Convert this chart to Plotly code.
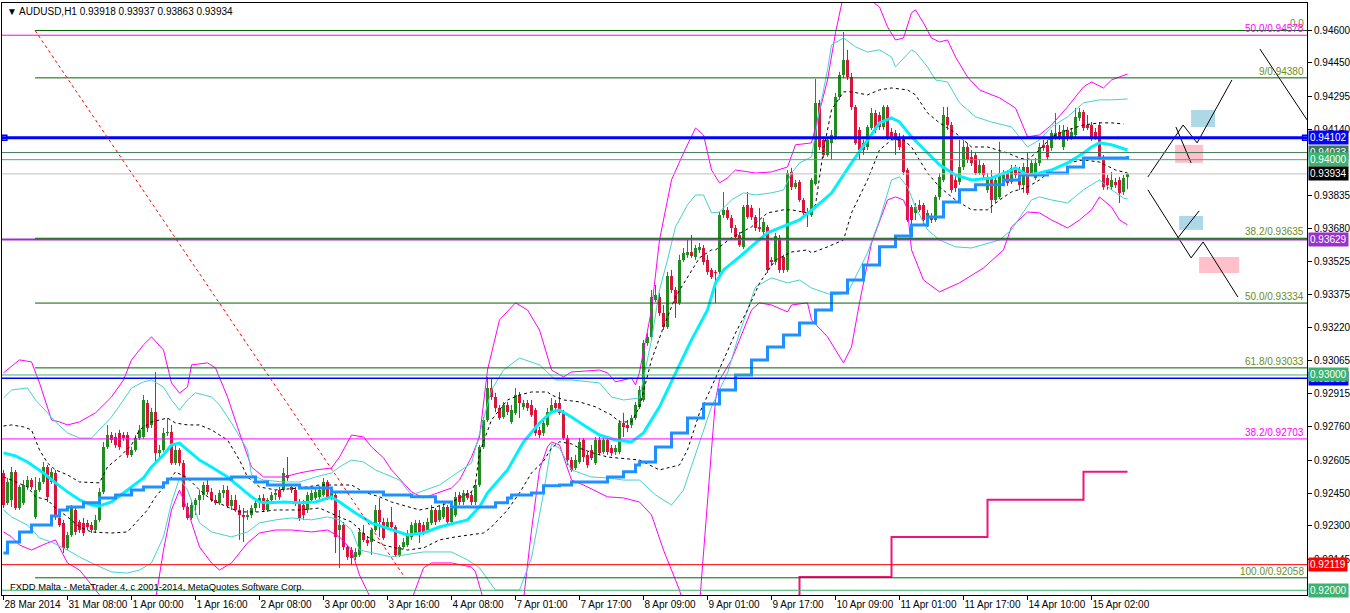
import plotly.graph_objects as go

FONT = "Liberation Sans, Arial, sans-serif"

# ---------------- hourly candles (open, high, low, close), 28 Mar 2014 -> 15 Apr 2014 ----------------
candles = [
(0.92545,0.92559,0.92382,0.92396),(0.92406,0.92522,0.92396,0.92503),(0.92420,0.92573,0.92387,0.92550),(0.92550,0.92559,0.92373,0.92382),
(0.92382,0.92489,0.92373,0.92480),(0.92406,0.92512,0.92396,0.92489),(0.92480,0.92531,0.92466,0.92512),(0.92512,0.92522,0.92466,0.92480),
(0.92341,0.92526,0.92331,0.92466),(0.92466,0.92522,0.92457,0.92503),(0.92503,0.92596,0.92494,0.92573),(0.92573,0.92582,0.92410,0.92434),
(0.92503,0.92568,0.92494,0.92550),(0.92545,0.92559,0.92327,0.92341),(0.92336,0.92350,0.92294,0.92303),(0.92313,0.92327,0.92173,0.92196),
(0.92196,0.92271,0.92187,0.92257),(0.92257,0.92396,0.92248,0.92387),(0.92373,0.92387,0.92257,0.92271),(0.92317,0.92327,0.92266,0.92280),
(0.92313,0.92336,0.92252,0.92266),(0.92313,0.92327,0.92280,0.92294),(0.92303,0.92317,0.92266,0.92280),(0.92280,0.92350,0.92266,0.92327),
(0.92327,0.92475,0.92317,0.92457),(0.92457,0.92689,0.92447,0.92666),(0.92666,0.92768,0.92656,0.92721),(0.92721,0.92735,0.92684,0.92698),
(0.92712,0.92731,0.92661,0.92675),(0.92731,0.92745,0.92652,0.92666),(0.92721,0.92735,0.92694,0.92707),(0.92721,0.92735,0.92615,0.92629),
(0.92629,0.92666,0.92619,0.92652),(0.92652,0.92721,0.92643,0.92707),(0.92707,0.92768,0.92698,0.92745),(0.92712,0.92907,0.92703,0.92884),
(0.92870,0.92884,0.92735,0.92754),(0.92768,0.92847,0.92754,0.92828),(0.92828,0.93014,0.92591,0.92638),(0.92638,0.92675,0.92615,0.92652),
(0.92652,0.92754,0.92643,0.92731),(0.92731,0.92800,0.92717,0.92735),(0.92735,0.92768,0.92582,0.92591),(0.92591,0.92675,0.92582,0.92652),
(0.92652,0.92661,0.92577,0.92591),(0.92591,0.92605,0.92373,0.92387),(0.92387,0.92406,0.92327,0.92336),(0.92336,0.92420,0.92327,0.92396),
(0.92396,0.92429,0.92350,0.92420),(0.92420,0.92466,0.92350,0.92443),(0.92443,0.92503,0.92420,0.92489),(0.92489,0.92512,0.92443,0.92457),
(0.92457,0.92475,0.92410,0.92420),(0.92420,0.92443,0.92396,0.92406),(0.92406,0.92466,0.92396,0.92452),(0.92452,0.92489,0.92429,0.92466),
(0.92466,0.92485,0.92382,0.92392),(0.92392,0.92443,0.92373,0.92420),(0.92420,0.92443,0.92364,0.92373),(0.92373,0.92396,0.92234,0.92350),
(0.92350,0.92382,0.92224,0.92341),(0.92341,0.92373,0.92327,0.92350),(0.92350,0.92396,0.92336,0.92382),(0.92382,0.92420,0.92364,0.92406),
(0.92406,0.92443,0.92382,0.92429),(0.92429,0.92447,0.92364,0.92373),(0.92373,0.92429,0.92364,0.92420),(0.92420,0.92457,0.92406,0.92443),
(0.92443,0.92466,0.92420,0.92452),(0.92466,0.92480,0.92420,0.92434),(0.92466,0.92568,0.92457,0.92545),(0.92536,0.92619,0.92508,0.92522),
(0.92480,0.92494,0.92452,0.92466),(0.92466,0.92480,0.92392,0.92406),(0.92410,0.92424,0.92322,0.92336),(0.92396,0.92420,0.92327,0.92350),
(0.92373,0.92457,0.92359,0.92443),(0.92420,0.92466,0.92410,0.92452),(0.92429,0.92475,0.92420,0.92457),(0.92434,0.92485,0.92424,0.92466),
(0.92443,0.92522,0.92434,0.92503),(0.92503,0.92512,0.92420,0.92434),(0.92434,0.92480,0.92420,0.92466),(0.92443,0.92452,0.92173,0.92248),
(0.92280,0.92373,0.92103,0.92303),(0.92303,0.92317,0.92187,0.92201),(0.92201,0.92210,0.92141,0.92155),(0.92187,0.92201,0.92117,0.92150),
(0.92155,0.92196,0.92141,0.92178),(0.92164,0.92289,0.92155,0.92271),(0.92266,0.92303,0.92224,0.92234),(0.92234,0.92252,0.92206,0.92220),
(0.92224,0.92289,0.92164,0.92280),(0.92280,0.92396,0.92271,0.92373),(0.92373,0.92429,0.92248,0.92317),(0.92317,0.92336,0.92234,0.92243),
(0.92289,0.92336,0.92280,0.92317),(0.92317,0.92387,0.92280,0.92294),(0.92294,0.92303,0.92155,0.92164),(0.92164,0.92210,0.92155,0.92201),
(0.92201,0.92243,0.92192,0.92224),(0.92210,0.92280,0.92201,0.92257),(0.92248,0.92317,0.92234,0.92303),(0.92266,0.92327,0.92257,0.92313),
(0.92313,0.92327,0.92220,0.92266),(0.92303,0.92317,0.92257,0.92271),(0.92280,0.92336,0.92271,0.92317),(0.92313,0.92396,0.92303,0.92373),
(0.92373,0.92382,0.92303,0.92317),(0.92327,0.92392,0.92317,0.92373),(0.92341,0.92406,0.92331,0.92387),(0.92387,0.92396,0.92303,0.92317),
(0.92317,0.92396,0.92308,0.92382),(0.92350,0.92457,0.92341,0.92434),(0.92443,0.92457,0.92396,0.92410),(0.92410,0.92466,0.92396,0.92452),
(0.92452,0.92466,0.92420,0.92429),(0.92443,0.92457,0.92396,0.92410),(0.92410,0.92503,0.92396,0.92489),(0.92489,0.92675,0.92480,0.92666),
(0.92666,0.92805,0.92656,0.92791),(0.92791,0.92991,0.92782,0.92940),(0.92940,0.92986,0.92884,0.92898),(0.92898,0.92917,0.92828,0.92847),
(0.92847,0.92861,0.92791,0.92800),(0.92805,0.92875,0.92796,0.92861),(0.92861,0.92875,0.92814,0.92828),(0.92782,0.92861,0.92773,0.92838),
(0.92824,0.92940,0.92814,0.92907),(0.92907,0.92921,0.92800,0.92870),(0.92852,0.92884,0.92838,0.92870),(0.92870,0.92884,0.92833,0.92847),
(0.92861,0.92884,0.92805,0.92814),(0.92838,0.92847,0.92717,0.92731),(0.92745,0.92759,0.92707,0.92721),(0.92731,0.92791,0.92717,0.92777),
(0.92768,0.92847,0.92759,0.92828),(0.92828,0.92893,0.92819,0.92861),(0.92870,0.92884,0.92838,0.92847),(0.92870,0.92921,0.92814,0.92824),
(0.92828,0.92838,0.92698,0.92707),(0.92707,0.92721,0.92582,0.92605),(0.92605,0.92619,0.92550,0.92559),(0.92568,0.92629,0.92559,0.92605),
(0.92596,0.92707,0.92587,0.92689),(0.92698,0.92707,0.92596,0.92619),(0.92629,0.92643,0.92568,0.92582),(0.92652,0.92675,0.92605,0.92615),
(0.92591,0.92712,0.92582,0.92698),(0.92698,0.92712,0.92629,0.92638),(0.92643,0.92712,0.92633,0.92698),(0.92698,0.92712,0.92629,0.92643),
(0.92661,0.92675,0.92624,0.92638),(0.92643,0.92675,0.92629,0.92661),(0.92643,0.92791,0.92633,0.92777),(0.92777,0.92824,0.92712,0.92759),
(0.92768,0.92791,0.92735,0.92754),(0.92768,0.92814,0.92754,0.92800),(0.92800,0.92875,0.92791,0.92861),(0.92852,0.92949,0.92842,0.92930),
(0.92884,0.93163,0.92875,0.93148),(0.93148,0.93195,0.93135,0.93177),(0.93177,0.93395,0.93163,0.93363),(0.93349,0.93418,0.93339,0.93372),
(0.93363,0.93381,0.93274,0.93288),(0.93288,0.93325,0.93209,0.93223),(0.93223,0.93479,0.93214,0.93460),(0.93460,0.93488,0.93381,0.93395),
(0.93395,0.93409,0.93265,0.93335),(0.93335,0.93558,0.93325,0.93534),(0.93534,0.93590,0.93525,0.93567),(0.93558,0.93627,0.93544,0.93571),
(0.93571,0.93650,0.93544,0.93553),(0.93548,0.93604,0.93534,0.93590),(0.93581,0.93613,0.93567,0.93595),(0.93590,0.93604,0.93511,0.93525),
(0.93534,0.93558,0.93465,0.93479),(0.93488,0.93497,0.93446,0.93455),(0.93476,0.93488,0.93335,0.93474),(0.93479,0.93757,0.93465,0.93743),
(0.93743,0.93850,0.93729,0.93767),(0.93767,0.93780,0.93720,0.93729),(0.93729,0.93743,0.93660,0.93683),(0.93683,0.93697,0.93627,0.93641),
(0.93650,0.93664,0.93595,0.93604),(0.93595,0.93790,0.93585,0.93780),(0.93790,0.93850,0.93725,0.93734),(0.93776,0.93790,0.93720,0.93734),
(0.93734,0.93743,0.93669,0.93683),(0.93683,0.93776,0.93664,0.93681),(0.93664,0.93729,0.93650,0.93711),(0.93687,0.93697,0.93474,0.93488),
(0.93534,0.93548,0.93507,0.93525),(0.93525,0.93660,0.93511,0.93646),(0.93637,0.93650,0.93474,0.93488),(0.93548,0.93558,0.93474,0.93488),
(0.93488,0.93952,0.93479,0.93938),(0.93943,0.93962,0.93859,0.93873),(0.93873,0.93906,0.93864,0.93892),(0.93896,0.93906,0.93804,0.93813),
(0.93813,0.93822,0.93743,0.93752),(0.93754,0.93776,0.93687,0.93752),(0.93743,0.93915,0.93734,0.93906),(0.93887,0.94375,0.93880,0.94264),
(0.94264,0.94278,0.94045,0.94059),(0.94092,0.94106,0.94008,0.94022),(0.94022,0.94106,0.94013,0.94092),(0.94078,0.94138,0.93999,0.94115),
(0.94106,0.94310,0.94092,0.94291),(0.94291,0.94408,0.94278,0.94394),(0.94394,0.94593,0.94380,0.94463),(0.94463,0.94510,0.94370,0.94384),
(0.94384,0.94403,0.94231,0.94245),(0.94245,0.94254,0.94069,0.94078),(0.94138,0.94152,0.93999,0.94045),(0.94078,0.94092,0.94022,0.94045),
(0.94059,0.94161,0.94045,0.94152),(0.94147,0.94240,0.94138,0.94217),(0.94217,0.94231,0.94124,0.94138),(0.94208,0.94222,0.94138,0.94152),
(0.94152,0.94254,0.94138,0.94245),(0.94245,0.94254,0.94092,0.94106),(0.94129,0.94147,0.94092,0.94106),(0.94124,0.94138,0.94022,0.94092),
(0.94106,0.94124,0.94045,0.94059),(0.94106,0.94115,0.93929,0.93943),(0.93952,0.93962,0.93711,0.93720),(0.93780,0.93790,0.93697,0.93720),
(0.93752,0.93799,0.93720,0.93780),(0.93790,0.93813,0.93757,0.93767),(0.93790,0.93799,0.93697,0.93720),(0.93706,0.93767,0.93687,0.93752),
(0.93734,0.93752,0.93706,0.93720),(0.93720,0.93836,0.93711,0.93827),(0.93827,0.93938,0.93813,0.93920),(0.93906,0.94245,0.93896,0.94208),
(0.94199,0.94245,0.94138,0.94161),(0.94161,0.94175,0.93846,0.93860),(0.93906,0.93929,0.93850,0.93869),(0.93896,0.94092,0.93883,0.93967),
(0.93967,0.94092,0.93952,0.94059),(0.94059,0.94078,0.93985,0.93999),(0.94013,0.94045,0.93971,0.93985),(0.94022,0.94036,0.93929,0.93938),
(0.93938,0.93999,0.93929,0.93976),(0.93976,0.93985,0.93915,0.93929),(0.93860,0.93938,0.93846,0.93920),(0.93920,0.93952,0.93752,0.93813),
(0.93813,0.93920,0.93799,0.93906),(0.93827,0.94083,0.93818,0.93938),(0.93896,0.93952,0.93883,0.93938),(0.93938,0.93952,0.93878,0.93892),
(0.93896,0.93976,0.93887,0.93962),(0.93962,0.93976,0.93915,0.93929),(0.93952,0.93967,0.93860,0.93883),(0.93883,0.93985,0.93846,0.93967),
(0.93967,0.94036,0.93836,0.93846),(0.93938,0.93999,0.93924,0.93985),(0.93915,0.94008,0.93906,0.93985),(0.93985,0.94078,0.93971,0.94059),
(0.94069,0.94092,0.94041,0.94055),(0.94069,0.94092,0.93999,0.94013),(0.94055,0.94138,0.94041,0.94124),(0.94106,0.94217,0.94092,0.94124),
(0.94129,0.94161,0.94092,0.94106),(0.94059,0.94161,0.94045,0.94138),(0.94138,0.94152,0.94087,0.94101),(0.94106,0.94147,0.94092,0.94129),
(0.94115,0.94240,0.94101,0.94199),(0.94194,0.94240,0.94180,0.94222),(0.94222,0.94231,0.94134,0.94147),(0.94161,0.94208,0.94138,0.94147),
(0.94161,0.94175,0.94087,0.94101),(0.94129,0.94147,0.94092,0.94101),(0.94161,0.94175,0.93999,0.94013),(0.93999,0.94022,0.93860,0.93873),
(0.93915,0.93929,0.93860,0.93883),(0.93873,0.93943,0.93860,0.93906),(0.93896,0.93915,0.93869,0.93883),(0.93906,0.93920,0.93799,0.93846),
(0.93850,0.93929,0.93836,0.93915),(0.93918,0.93937,0.93863,0.93934),
]

# ---------------- indicators: (bar index, price) samples ----------------
ma_pts = [(0,0.92638),(3,0.92624),(6,0.92596),(10,0.92545),(13,0.92499),(16,0.92457),(19,0.92420),(22,0.92396),(24,0.92392),(27,0.92410),
(30,0.92452),(32,0.92480),(35,0.92522),(37,0.92573),(40,0.92629),(42,0.92675),(44,0.92684),(46,0.92652),(49,0.92605),(52,0.92573),
(56,0.92526),(59,0.92480),(62,0.92434),(64,0.92410),(66,0.92406),(70,0.92410),(74,0.92406),(78,0.92410),(82,0.92434),(84,0.92410),
(88,0.92359),(92,0.92313),(97,0.92280),(101,0.92257),(105,0.92266),(109,0.92294),(113,0.92313),(116,0.92327),(119,0.92387),(121,0.92452),
(126,0.92559),(130,0.92689),(134,0.92777),(137,0.92828),(139,0.92837),(142,0.92805),(145,0.92768),(149,0.92721),(153,0.92698),(157,0.92689),
(160,0.92731),(164,0.92852),(168,0.93009),(172,0.93163),(176,0.93302),(178,0.93427),(180,0.93488),(184,0.93548),(188,0.93613),(191,0.93660),
(194,0.93683),(199,0.93720),(203,0.93780),(207,0.93845),(212,0.93985),(216,0.94092),(219,0.94171),(222,0.94194),(224,0.94175),(227,0.94106),
(231,0.94031),(234,0.93976),(238,0.93929),(242,0.93906),(247,0.93915),(251,0.93943),(253,0.93962),(256,0.93929),(259,0.93938),(262,0.93952),
(266,0.93985),(270,0.94031),(272,0.94059),(274,0.94078),(277,0.94069),(281,0.94045)]

trail_pts = [(0,0.92173),(1,0.92224),(4,0.92271),(7,0.92303),(12,0.92345),(14,0.92373),(16,0.92387),(20,0.92406),(24,0.92429),(28,0.92443),
(32,0.92466),(35,0.92480),(40,0.92499),(41,0.92517),(57,0.92526),(63,0.92503),(66,0.92489),(74,0.92475),(82,0.92457),(95,0.92443),
(102,0.92434),(108,0.92410),(112,0.92387),(123,0.92406),(126,0.92429),(127,0.92443),(132,0.92452),(135,0.92485),(139,0.92489),(142,0.92503),
(151,0.92526),(155,0.92550),(158,0.92582),(159,0.92596),(163,0.92666),(167,0.92731),(171,0.92800),(175,0.92865),(179,0.92930),(183,0.93000),
(187,0.93070),(191,0.93130),(195,0.93186),(199,0.93242),(203,0.93302),(207,0.93381),(211,0.93441),(215,0.93511),(219,0.93595),(223,0.93646),
(227,0.93697),(231,0.93734),(235,0.93804),(239,0.93860),(243,0.93883),(250,0.93906),(254,0.93929),(261,0.93938),(266,0.93966),(270,0.94008),
(281,0.94017)]

pink_pts = [(198,0.91900),(199,0.92062),(222,0.92248),(246,0.92420),(270,0.92550),(281,0.92550)]

mag_up = [(0,0.93010),(4,0.93070),(7,0.93061),(9,0.92963),(12,0.92791),(14,0.92782),(16,0.92768),(19,0.92782),(23,0.92824),(27,0.92898),
(30,0.92977),(32,0.93070),(35,0.93140),(37,0.93177),(40,0.93116),(42,0.92963),(44,0.92916),(46,0.92944),(47,0.93047),(51,0.93056),
(53,0.93033),(56,0.92898),(59,0.92731),(62,0.92573),(65,0.92526),(70,0.92526),(74,0.92545),(78,0.92559),(82,0.92568),(84,0.92619),
(87,0.92721),(90,0.92712),(92,0.92666),(95,0.92615),(97,0.92559),(100,0.92499),(102,0.92457),(105,0.92429),(107,0.92443),(112,0.92475),
(114,0.92512),(117,0.92619),(119,0.92712),(121,0.93023),(124,0.93256),(128,0.93335),(131,0.93302),(134,0.93209),(137,0.93023),(140,0.92991),
(142,0.93014),(149,0.93023),(151,0.93010),(153,0.92968),(157,0.92986),(158,0.92954),(159,0.93014),(162,0.93302),(164,0.93627),(167,0.93906),
(170,0.94031),(173,0.94147),(175,0.94115),(177,0.93952),(179,0.93892),(181,0.93915),(183,0.93952),(188,0.93938),(192,0.93943),(196,0.93966),
(198,0.94069),(202,0.94078),(206,0.94370),(208,0.94589),(210,0.94765),(215,0.94765),(219,0.94709),(221,0.94617),(223,0.94556),(225,0.94565),
(227,0.94682),(228,0.94696),(230,0.94635),(232,0.94565),(234,0.94547),(236,0.94556),(238,0.94477),(241,0.94384),(244,0.94324),(249,0.94287),
(253,0.94240),(256,0.94106),(259,0.94115),(262,0.94161),(266,0.94245),(270,0.94338),(272,0.94361),(275,0.94333),(277,0.94370),(281,0.94398)]

mag_lo = [(0,0.92271),(2,0.92248),(4,0.92210),(7,0.92187),(11,0.92220),(13,0.92234),(16,0.92127),(19,0.92094),(22,0.92025),(25,0.91955),
(37,0.91932),(38,0.91955),(40,0.92187),(42,0.92373),(44,0.92466),(46,0.92373),(49,0.92201),(52,0.92127),(54,0.92094),(57,0.92127),
(61,0.92220),(64,0.92266),(68,0.92280),(72,0.92280),(77,0.92271),(81,0.92280),(84,0.92248),(87,0.92187),(89,0.92071),(92,0.91955),
(102,0.91955),(105,0.92104),(107,0.92127),(112,0.92127),(117,0.92108),(118,0.92085),(120,0.91955),(130,0.91955),(132,0.92280),(134,0.92559),
(136,0.92666),(137,0.92689),(139,0.92675),(141,0.92559),(142,0.92512),(145,0.92489),(151,0.92434),(155,0.92429),(159,0.92410),(162,0.92350),
(165,0.92187),(169,0.92001),(170,0.91932),(174,0.91932),(175,0.92187),(177,0.92652),(178,0.92884),(179,0.92977),(182,0.93070),(185,0.93209),
(187,0.93302),(189,0.93335),(192,0.93325),(196,0.93293),(197,0.93325),(201,0.93335),(202,0.93256),(206,0.93177),(210,0.93056),(212,0.93130),
(214,0.93335),(217,0.93613),(221,0.93813),(223,0.93827),(225,0.93813),(226,0.93767),(227,0.93581),(230,0.93441),(234,0.93386),(239,0.93428),
(245,0.93497),(250,0.93581),(252,0.93688),(256,0.93757),(259,0.93753),(262,0.93720),(266,0.93683),(269,0.93720),(272,0.93767),(274,0.93827),
(277,0.93780),(279,0.93720),(281,0.93697)]

turq_up = [(0,0.92893),(2,0.92930),(6,0.92940),(8,0.92884),(11,0.92824),(13,0.92782),(16,0.92731),(19,0.92707),(22,0.92707),(24,0.92745),
(27,0.92805),(30,0.92884),(32,0.92940),(35,0.92968),(37,0.92977),(40,0.92944),(42,0.92884),(44,0.92837),(46,0.92884),(48,0.92917),
(52,0.92898),(54,0.92861),(57,0.92777),(61,0.92652),(62,0.92536),(65,0.92512),(70,0.92503),(74,0.92503),(78,0.92526),(82,0.92545),
(84,0.92573),(87,0.92605),(90,0.92596),(93,0.92559),(99,0.92512),(102,0.92443),(109,0.92489),(117,0.92591),(120,0.92791),(122,0.92930),
(125,0.93023),(129,0.93079),(134,0.93047),(138,0.92977),(142,0.92977),(149,0.92963),(152,0.92898),(155,0.92884),(159,0.92893),(162,0.93163),
(164,0.93395),(166,0.93534),(168,0.93688),(171,0.93790),(173,0.93836),(175,0.93836),(177,0.93753),(179,0.93757),(182,0.93813),(185,0.93846),
(188,0.93836),(192,0.93846),(195,0.93859),(197,0.93938),(199,0.93985),(202,0.94013),(204,0.94231),(206,0.94417),(207,0.94533),(210,0.94565),
(213,0.94524),(216,0.94500),(219,0.94510),(222,0.94477),(223,0.94431),(227,0.94510),(228,0.94500),(231,0.94431),(233,0.94370),(236,0.94361),
(239,0.94264),(243,0.94199),(247,0.94175),(252,0.94152),(256,0.94059),(259,0.94092),(262,0.94152),(266,0.94199),(270,0.94264),(274,0.94278),
(277,0.94278),(281,0.94282)]

turq_lo = [(0,0.92373),(2,0.92341),(6,0.92303),(9,0.92243),(12,0.92224),(16,0.92187),(19,0.92155),(22,0.92127),(27,0.92085),(31,0.92080),
(34,0.92094),(37,0.92127),(40,0.92248),(42,0.92406),(44,0.92522),(46,0.92466),(49,0.92313),(52,0.92271),(57,0.92248),(61,0.92271),
(64,0.92313),(68,0.92327),(72,0.92336),(77,0.92327),(81,0.92341),(84,0.92327),(87,0.92280),(89,0.92187),(97,0.92155),(105,0.92178),
(112,0.92178),(116,0.92141),(119,0.92104),(123,0.92001),(129,0.92001),(132,0.92150),(135,0.92450),(137,0.92680),(139,0.92660),(142,0.92559),
(147,0.92526),(151,0.92522),(155,0.92512),(159,0.92512),(163,0.92443),(167,0.92396),(170,0.92466),(173,0.92629),(177,0.92852),(181,0.93009),
(184,0.93195),(186,0.93302),(188,0.93409),(192,0.93451),(196,0.93428),(199,0.93441),(202,0.93404),(207,0.93372),(211,0.93381),(213,0.93455),
(216,0.93567),(219,0.93720),(222,0.93906),(224,0.93920),(226,0.93873),(228,0.93780),(231,0.93674),(234,0.93627),(238,0.93595),(242,0.93590),
(249,0.93627),(252,0.93674),(257,0.93813),(259,0.93827),(262,0.93813),(266,0.93799),(270,0.93860),(274,0.93906),(277,0.93860),(280,0.93822),
(281,0.93818)]

dash_up = [(0,0.92763),(2,0.92768),(5,0.92759),(7,0.92745),(9,0.92652),(11,0.92591),(13,0.92559),(16,0.92536),(19,0.92503),(24,0.92499),
(26,0.92573),(29,0.92619),(32,0.92675),(34,0.92745),(37,0.92782),(41,0.92800),(43,0.92777),(46,0.92768),(49,0.92768),(52,0.92745),
(56,0.92698),(59,0.92605),(61,0.92526),(64,0.92480),(68,0.92466),(74,0.92475),(79,0.92489),(84,0.92489),(87,0.92489),(90,0.92457),
(94,0.92434),(97,0.92410),(101,0.92387),(104,0.92373),(108,0.92387),(112,0.92410),(117,0.92457),(118,0.92499),(119,0.92638),(122,0.92791),
(126,0.92884),(129,0.92907),(132,0.92921),(136,0.92921),(137,0.92907),(140,0.92884),(144,0.92875),(148,0.92852),(152,0.92814),(154,0.92782),
(157,0.92782),(159,0.92852),(162,0.93070),(165,0.93223),(168,0.93363),(171,0.93455),(174,0.93544),(177,0.93581),(178,0.93581),(182,0.93637),
(187,0.93688),(191,0.93753),(195,0.93767),(197,0.93767),(201,0.93753),(203,0.93790),(205,0.94045),(207,0.94231),(210,0.94315),(212,0.94315),
(216,0.94301),(219,0.94324),(222,0.94333),(226,0.94324),(228,0.94301),(231,0.94217),(234,0.94171),(238,0.94124),(242,0.94059),(246,0.94059),
(251,0.94031),(254,0.94008),(256,0.93999),(259,0.94045),(262,0.94106),(266,0.94138),(270,0.94161),(274,0.94171),(277,0.94171),(280,0.94166)]

dash_lo = [(0,0.92526),(2,0.92512),(6,0.92480),(8,0.92434),(11,0.92420),(13,0.92382),(16,0.92341),(19,0.92294),(22,0.92271),(27,0.92266),
(31,0.92271),(33,0.92313),(36,0.92373),(38,0.92434),(41,0.92499),(43,0.92550),(46,0.92522),(49,0.92466),(52,0.92420),(56,0.92387),
(59,0.92364),(64,0.92364),(68,0.92373),(74,0.92373),(79,0.92382),(84,0.92340),(87,0.92317),(91,0.92248),(95,0.92210),(98,0.92197),
(101,0.92187),(105,0.92197),(109,0.92234),(113,0.92248),(117,0.92257),(120,0.92266),(122,0.92294),(126,0.92373),(129,0.92452),(132,0.92545),
(135,0.92600),(137,0.92660),(139,0.92690),(142,0.92680),(144,0.92660),(147,0.92640),(151,0.92619),(154,0.92615),(159,0.92605),(164,0.92559),
(169,0.92582),(171,0.92652),(174,0.92824),(177,0.92944),(180,0.93070),(183,0.93195),(186,0.93302),(189,0.93427),(193,0.93534),(197,0.93571),
(201,0.93581),(202,0.93567),(206,0.93595),(210,0.93627),(212,0.93753),(216,0.93906),(219,0.94045),(222,0.94092),(225,0.94092),(227,0.94059),
(231,0.93938),(234,0.93873),(238,0.93813),(242,0.93767),(246,0.93767),(249,0.93813),(252,0.93850),(256,0.93873),(259,0.93906),(262,0.93952),
(266,0.93985),(270,0.93999),(274,0.93989),(278,0.93952),(281,0.93938)]

# ---------------- axis labels ----------------
time_tick_bars = [0, 16, 32, 48, 64, 80, 96, 112, 128, 144, 160, 176, 192, 208, 224, 240, 256, 272]
time_tick_text = ["28 Mar 2014", "31 Mar 08:00", "1 Apr 00:00", "1 Apr 16:00", "2 Apr 08:00", "3 Apr 00:00",
                  "3 Apr 16:00", "4 Apr 08:00", "7 Apr 01:00", "7 Apr 17:00", "8 Apr 09:00", "9 Apr 01:00",
                  "9 Apr 17:00", "10 Apr 09:00", "11 Apr 01:00", "11 Apr 17:00", "14 Apr 10:00", "15 Apr 02:00"]
price_ticks = [0.94600, 0.94450, 0.94295, 0.94140, 0.93835, 0.93680, 0.93525, 0.93375, 0.93220,
               0.93065, 0.92915, 0.92760, 0.92605, 0.92450, 0.92300, 0.92145]

# ---------------- horizontal levels ----------------
full_levels = [(0.94578, "#FF00FF", 1), (0.94102, "#0000FF", 3), (0.94033, "#3B7A58", 1), (0.94000, "#3CB371", 1),
               (0.93934, "#C0C0C0", 1), (0.93629, "#9932CC", 2), (0.93000, "#3CB371", 1), (0.92985, "#0000FF", 1.5),
               (0.92703, "#FF00FF", 1), (0.92119, "#FF0000", 1), (0.92000, "#3CB371", 1)]
fib_start_bar = 7.9
fib_levels = [0.94600, 0.94380, 0.93635, 0.93334, 0.93033, 0.92058]
level_texts = [("0.0", 0.94600, "#6B8E23"), ("50.0/0.94578", 0.94578, "#FF00FF"), ("9/0.94380", 0.94380, "#6B8E23"),
               ("38.2/0.93635", 0.93635, "#6B8E23"), ("50.0/0.93334", 0.93334, "#6B8E23"), ("61.8/0.93033", 0.93033, "#6B8E23"),
               ("38.2/0.92703", 0.92703, "#FF00FF"), ("100.0/0.92058", 0.92058, "#6B8E23")]
price_boxes = [(0.94102, "#0000FF"), (0.94033, "#3B7A58"), (0.94000, "#3CB371"), (0.93934, "#000000"),
               (0.93629, "#9932CC"), (0.92985, "#0000FF"), (0.93000, "#3CB371"), (0.92119, "#FF0000"), (0.92000, "#3CB371")]
trend_line = [(7.9, 0.94600), (100.4, 0.92058)]

# drawn forecast objects (bar index incl. future bars, price)
zigzags = [
    [(286.1, 0.93920), (294.9, 0.94161), (298.4, 0.94078), (307.1, 0.94370)],
    [(293.1, 0.94152), (296.9, 0.93985)],
    [(286.1, 0.93860), (296.9, 0.93544), (299.9, 0.93618), (308.6, 0.93362)],
    [(293.6, 0.93637), (298.9, 0.93762)],
    [(314.1, 0.94514), (325.875, 0.94185)],
]
boxes = [(296.9, 302.9, 0.94152, 0.94231, "#ADD8E6"), (292.9, 299.9, 0.93985, 0.94069, "#FFC0CB"),
         (293.9, 299.9, 0.93674, 0.93739, "#ADD8E6"), (298.9, 308.9, 0.93474, 0.93548, "#FFC0CB")]

GREEN = "#228B22"
RED = "#DC143C"

fig = go.Figure()

# candles: wicks + bodies
for col, is_up in ((GREEN, True), (RED, False)):
    wx, wy, bx, bb, bh = [], [], [], [], []
    for i, (o, h, l, c) in enumerate(candles):
        if (c >= o) != is_up:
            continue
        wx += [i, i, None]
        wy += [l, h, None]
        bx.append(i)
        bb.append(min(o, c))
        bh.append(abs(c - o))
    fig.add_trace(go.Scatter(x=wx, y=wy, mode="lines", line=dict(color=col, width=1), hoverinfo="skip"))
    fig.add_trace(go.Bar(x=bx, y=bh, base=bb, width=0.75, marker=dict(color=col, line=dict(width=0)), hoverinfo="skip"))


def add_line(pts, color, width, dash=None, shape="linear"):
    fig.add_trace(go.Scatter(x=[p[0] for p in pts], y=[p[1] for p in pts], mode="lines",
                             line=dict(color=color, width=width, dash=dash, shape=shape), hoverinfo="skip"))


add_line(mag_up, "#FF00FF", 1)
add_line(mag_lo, "#FF00FF", 1)
add_line(turq_up, "#48D1CC", 1)
add_line(turq_lo, "#48D1CC", 1)
add_line(dash_up, "#000000", 1, dash="3px,3px")
add_line(dash_lo, "#000000", 1, dash="3px,3px")
add_line(ma_pts, "#00F0FF", 3)
add_line(trail_pts, "#1E90FF", 3, shape="hv")
add_line(pink_pts, "#F0147F", 2, shape="hv")

for z in zigzags:
    add_line(z, "#000000", 1)

# handles on the blue horizontal line
fig.add_trace(go.Scatter(x=[0.2, 325.4], y=[0.94102, 0.94102], mode="markers",
                         marker=dict(symbol="square", size=5, color="white", line=dict(color="#0000FF", width=1.5)),
                         hoverinfo="skip", cliponaxis=False))

shapes = []
for x0, x1, y0, y1, col in boxes:
    shapes.append(dict(type="rect", xref="x", yref="y", x0=x0, x1=x1, y0=y0, y1=y1,
                       fillcolor=col, line=dict(width=0), layer="below"))
for p, col, w in full_levels:
    shapes.append(dict(type="line", xref="paper", yref="y", x0=0, x1=1, y0=p, y1=p,
                       line=dict(color=col, width=w), layer="above"))
for p in fib_levels:
    shapes.append(dict(type="line", xref="x", yref="y", x0=fib_start_bar, x1=325.875, y0=p, y1=p,
                       line=dict(color="#006400", width=1), layer="above"))
shapes.append(dict(type="line", xref="x", yref="y", x0=trend_line[0][0], y0=trend_line[0][1],
                   x1=trend_line[1][0], y1=trend_line[1][1], line=dict(color="#FF0000", width=1, dash="dot"),
                   layer="above"))

ann = []
for txt, p, col in level_texts:
    ann.append(dict(xref="x", yref="y", x=325.5, y=p, text=txt, showarrow=False, xanchor="right",
                    yanchor="bottom", yshift=-1, font=dict(family=FONT, size=10, color=col)))
for p, col in price_boxes:
    ann.append(dict(xref="paper", yref="y", x=1, y=p, text=f"{p:.5f}", showarrow=False, xanchor="left",
                    yanchor="middle", xshift=1, bgcolor=col, borderpad=1,
                    font=dict(family=FONT, size=10, color="white")))
ann.append(dict(xref="paper", yref="paper", x=0, y=1, xanchor="left", yanchor="top", xshift=3, yshift=-1,
                text="\u25bc AUDUSD,H1 0.93918 0.93937 0.93863 0.93934", showarrow=False,
                font=dict(family="Liberation Sans, DejaVu Sans, sans-serif", size=10, color="black")))
ann.append(dict(xref="paper", yref="paper", x=0, y=0, xanchor="left", yanchor="bottom", xshift=6, yshift=1,
                text="FXDD Malta - MetaTrader 4, c 2001-2014, MetaQuotes Software Corp.", showarrow=False,
                font=dict(family=FONT, size=9.4, color="black")))

fig.update_layout(
    width=1350, height=613,
    margin=dict(l=2, r=43, t=3, b=18, pad=0, autoexpand=False),
    paper_bgcolor="white", plot_bgcolor="white",
    showlegend=False, barmode="overlay", bargap=0,
    shapes=shapes, annotations=ann,
    font=dict(family=FONT, size=10, color="black"),
    xaxis=dict(range=[-0.375, 325.875], showgrid=False, zeroline=False, tickmode="array",
               tickvals=time_tick_bars, ticktext=time_tick_text, ticks="outside", ticklen=4, tickangle=0,
               tickcolor="black", showline=True, linecolor="black", linewidth=1, mirror=True,
               ticklabelposition="outside right", tickfont=dict(family=FONT, size=10, color="black"),
               fixedrange=True),
    yaxis=dict(range=[0.919781, 0.947277], side="right", showgrid=False, zeroline=False,
               tickmode="array", tickvals=price_ticks, ticktext=[f"{v:.5f}" for v in price_ticks],
               ticks="outside", ticklen=4, tickcolor="black", showline=True, linecolor="black",
               linewidth=1, mirror=True, tickfont=dict(family=FONT, size=10, color="black"),
               fixedrange=True),
)

fig.write_html("out.html", config={"displayModeBar": False},
               post_script="document.body.style.margin='0px';document.body.style.overflow='hidden';")
